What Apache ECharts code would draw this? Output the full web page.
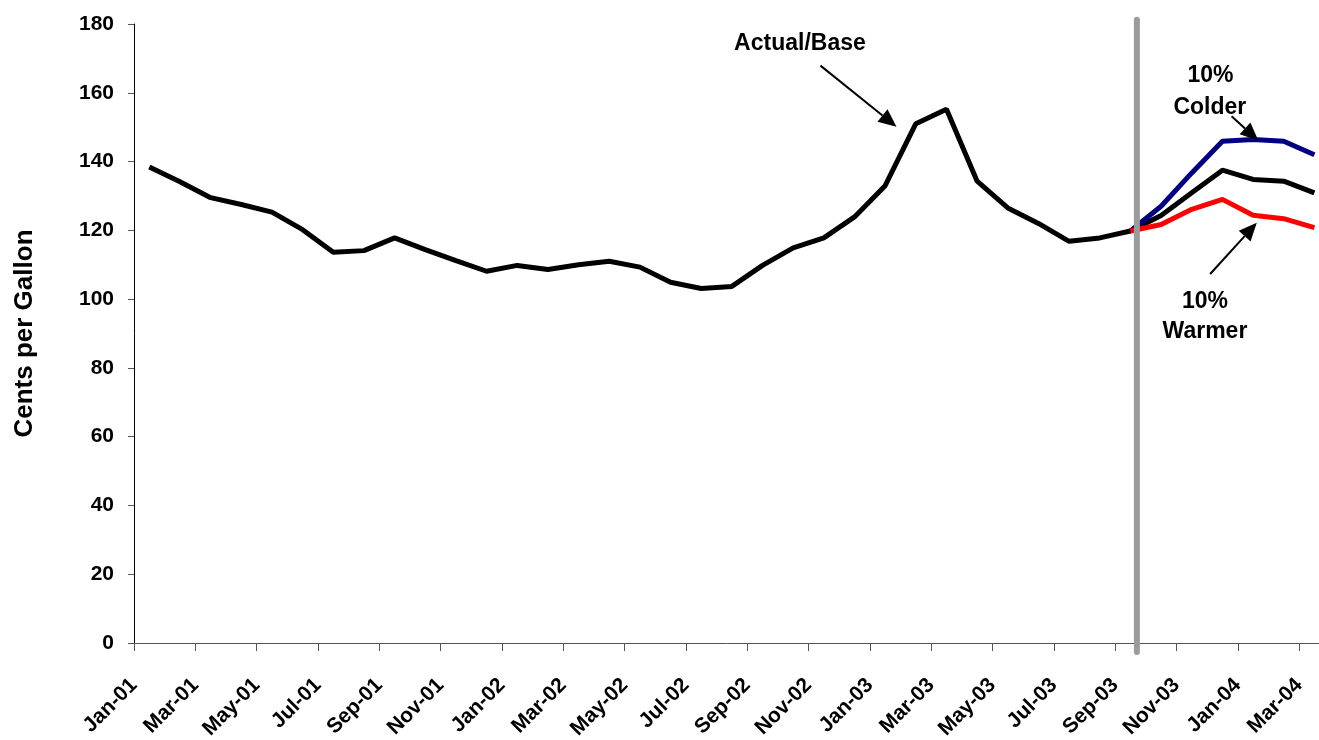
<!DOCTYPE html>
<html>
<head>
<meta charset="utf-8">
<title>Heating Oil Price Outlook</title>
<script src="https://cdn.jsdelivr.net/npm/echarts@6/dist/echarts.min.js"></script>
<style>
  html, body { margin: 0; padding: 0; background: #fff; }
  #chart { width: 1319px; height: 740px; }
</style>
</head>
<body>
<div id="chart"></div>
<script>
// Monthly categories, Jan 2001 through Mar 2004
const months = [
  'Jan-01','Feb-01','Mar-01','Apr-01','May-01','Jun-01','Jul-01','Aug-01','Sep-01','Oct-01','Nov-01','Dec-01',
  'Jan-02','Feb-02','Mar-02','Apr-02','May-02','Jun-02','Jul-02','Aug-02','Sep-02','Oct-02','Nov-02','Dec-02',
  'Jan-03','Feb-03','Mar-03','Apr-03','May-03','Jun-03','Jul-03','Aug-03','Sep-03','Oct-03','Nov-03','Dec-03',
  'Jan-04','Feb-04','Mar-04'
];

// Tick labels shown every second month
const tickLabels = [
  'Jan-01','Mar-01','May-01','Jul-01','Sep-01','Nov-01',
  'Jan-02','Mar-02','May-02','Jul-02','Sep-02','Nov-02',
  'Jan-03','Mar-03','May-03','Jul-03','Sep-03','Nov-03',
  'Jan-04','Mar-04'
];

// Actual history and base-case forecast (cents per gallon)
const actualBase = [
  138.4, 134.1, 129.5, 127.5, 125.3, 120.2, 113.6, 114.1, 117.8, 114.4, 111.2, 108.1,
  109.8, 108.6, 110.0, 111.0, 109.3, 104.9, 103.1, 103.7, 109.8, 114.9, 117.8, 123.9,
  133.0, 151.0, 155.2, 134.3, 126.5, 122.0, 116.8, 117.8, 119.8,
  124.3, 130.9, 137.5, 134.8, 134.3, 130.9
];

// Weather scenarios, Sep-03 through Mar-04
const scenarioStart = 32;
const colder = [119.8, 127.0, 136.7, 145.9, 146.4, 145.9, 142.0];
const warmer = [119.8, 121.7, 126.1, 129.0, 124.4, 123.4, 120.8];

// Y axis ticks
const yTicks = [0, 20, 40, 60, 80, 100, 120, 140, 160, 180];

// Month index where the forecast period begins (divider line)
const forecastDivider = 32.71;

const FONT = "'Liberation Sans', Arial, Helvetica, sans-serif";

// Each month is plotted at the centre of its slot on a continuous month scale
const toPoints = (vals, start) => vals.map((v, i) => [start + i + 0.5, v]);
const tickValues = tickLabels.map((_, k) => k * 2);

const chart = echarts.init(document.getElementById('chart'), null, { renderer: 'canvas' });

chart.setOption({
  animation: false,
  backgroundColor: '#ffffff',
  grid: { left: 134, right: 0, top: 24, bottom: 97, containLabel: false, outerBoundsMode: 'none' },
  xAxis: {
    type: 'value',
    min: 0,
    max: 38.65,
    splitLine: { show: false },
    axisLine: { show: true, onZero: false, lineStyle: { color: '#555', width: 1 } },
    axisTick: { show: true, inside: false, length: 8, lineStyle: { color: '#555', width: 1 }, customValues: tickValues },
    axisLabel: {
      customValues: tickValues,
      rotate: 45,
      margin: 39,
      color: '#000',
      fontFamily: FONT,
      fontWeight: 'bold',
      fontSize: 21,
      formatter: (v) => tickLabels[Math.round(v / 2)] || ''
    }
  },
  yAxis: {
    type: 'value',
    min: 0,
    max: 180,
    interval: 20,
    name: 'Cents per Gallon',
    nameLocation: 'middle',
    nameGap: 96,
    nameRotate: 90,
    nameTextStyle: { color: '#000', fontFamily: FONT, fontWeight: 'bold', fontSize: 26 },
    splitLine: { show: false },
    axisLine: { show: true, lineStyle: { color: '#000', width: 1 } },
    axisTick: { show: true, inside: false, length: 6, lineStyle: { color: '#555', width: 1 } },
    axisLabel: {
      margin: 20,
      color: '#000',
      fontFamily: FONT,
      fontWeight: 'bold',
      fontSize: 21,
      customValues: yTicks
    }
  },
  series: [
    {
      name: 'Actual/Base',
      type: 'line',
      data: toPoints(actualBase, 0),
      showSymbol: false,
      lineStyle: { color: '#000000', width: 5 },
      z: 3
    },
    {
      name: '10% Colder',
      type: 'line',
      data: toPoints(colder, scenarioStart),
      showSymbol: false,
      lineStyle: { color: '#000080', width: 5 },
      z: 4
    },
    {
      name: '10% Warmer',
      type: 'line',
      data: toPoints(warmer, scenarioStart),
      showSymbol: false,
      lineStyle: { color: '#ff0000', width: 5 },
      z: 5
    }
  ]
});

// Annotations placed in data units (month index, cents per gallon)
const labels = [
  { text: 'Actual/Base', at: [21.72, 174.2] },
  { text: '10%', at: [35.11, 165.0] },
  { text: 'Colder', at: [35.09, 155.7] },
  { text: '10%', at: [34.93, 99.4] },
  { text: 'Warmer', at: [34.93, 90.4] }
];
const arrows = [
  { from: [22.39, 167.9], to: [24.87, 150.1] },
  { from: [35.80, 153.2], to: [36.67, 146.1] },
  { from: [35.10, 107.3], to: [36.62, 122.2] }
];

function px(p) { return chart.convertToPixel({ gridIndex: 0 }, p); }

const graphics = [];

// Forecast divider: extends slightly past both ends of the value axis
const dTop = px([forecastDivider, 181.2]);
const dBot = px([forecastDivider, -2.6]);
graphics.push({
  type: 'line', z: 10,
  shape: { x1: dTop[0], y1: dTop[1], x2: dBot[0], y2: dBot[1] },
  style: { stroke: '#9b9b9b', lineWidth: 6, lineCap: 'round' }
});

labels.forEach(l => {
  const p = px(l.at);
  graphics.push({
    type: 'text', z: 20,
    x: p[0], y: p[1],
    style: {
      text: l.text, fill: '#000', font: 'bold 23px ' + FONT,
      align: 'center', verticalAlign: 'middle'
    }
  });
});

arrows.forEach(a => {
  const t = px(a.from), h = px(a.to);
  const dx = h[0] - t[0], dy = h[1] - t[1];
  const len = Math.hypot(dx, dy);
  const ux = dx / len, uy = dy / len;
  const L = 18, W = 8;
  const bx = h[0] - ux * L, by = h[1] - uy * L;
  graphics.push({
    type: 'line', z: 20,
    shape: { x1: t[0], y1: t[1], x2: bx, y2: by },
    style: { stroke: '#000', lineWidth: 2 }
  });
  graphics.push({
    type: 'polygon', z: 20,
    shape: { points: [[h[0], h[1]], [bx - uy * W, by + ux * W], [bx + uy * W, by - ux * W]] },
    style: { fill: '#000' }
  });
});

chart.setOption({ graphic: graphics });
</script>
</body>
</html>
